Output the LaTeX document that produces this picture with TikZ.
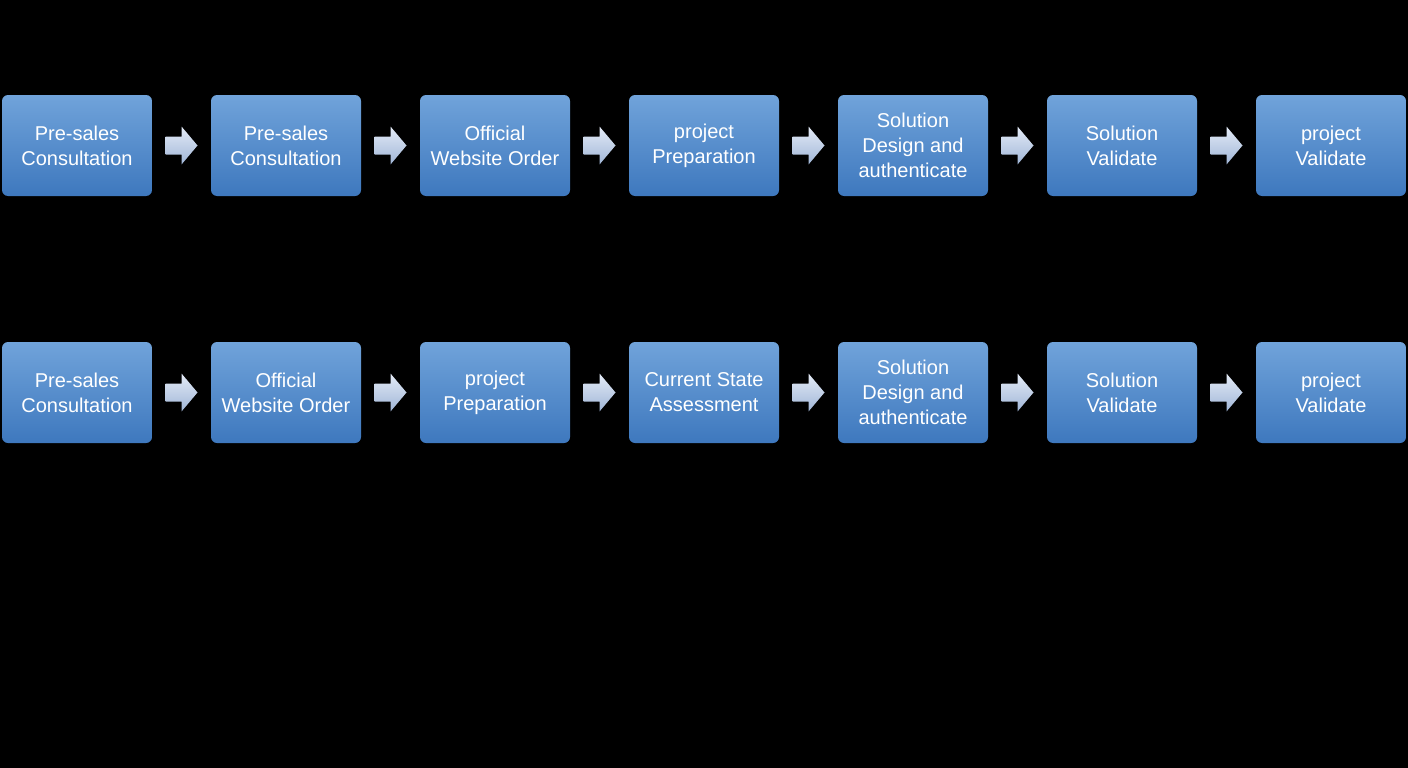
\documentclass[tikz,border=0pt]{standalone}
\usepackage{fontspec}
\setmainfont{Liberation Sans}
\usetikzlibrary{calc}
\definecolor{btop}{RGB}{112,163,218}
\definecolor{bbot}{RGB}{62,120,190}
\definecolor{atop}{RGB}{228,235,247}
\definecolor{abot}{RGB}{160,182,215}
\begin{document}
\begin{tikzpicture}[x=1pt,y=-1pt,
 box/.style={draw=none,rounded corners=6pt,minimum width=150pt,minimum height=101pt,
  top color=btop,bottom color=bbot,
  text=white,align=center,font=\fontsize{20}{25}\selectfont,inner sep=0pt},
 arr/.style={top color=atop,bottom color=abot,draw=none}]
\fill[black] (0,0) rectangle (1408,768);
\useasboundingbox (0,0) rectangle (1408,768);
\foreach \t [count=\i] in {{Pre-sales\\Consultation},{Pre-sales\\Consultation},{Official\\Website Order},{project\\Preparation},{Solution\\Design and\\authenticate},{Solution\\Validate},{project\\Validate}}{
  \pgfmathsetmacro\cx{77+209*(\i-1)}
  \node[box] (a\i) at (\cx,145.5) {\t};
}
\foreach \t [count=\i] in {{Pre-sales\\Consultation},{Official\\Website Order},{project\\Preparation},{Current State\\Assessment},{Solution\\Design and\\authenticate},{Solution\\Validate},{project\\Validate}}{
  \pgfmathsetmacro\cx{77+209*(\i-1)}
  \node[box] (b\i) at (\cx,392.5) {\t};
}
\foreach \r in {a,b}{
 \foreach \i in {1,...,6}{
  \pgfmathtruncatemacro\j{\i+1}
  \path[arr] ($(\r\i.east)!0.5!(\r\j.west)$) ++(-16,-9) -- ++(16,0) -- ++(0,-10) -- ++(16,19) -- ++(-16,19) -- ++(0,-10) -- ++(-16,0) -- cycle;
 }
}
\end{tikzpicture}
\end{document}
